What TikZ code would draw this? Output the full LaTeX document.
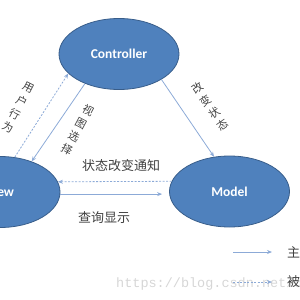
\documentclass[tikz,border=0pt]{standalone}
\usepackage{fontspec}
\newfontfamily\cjk{Noto Sans CJK SC}
\newfontfamily\lab{Carlito}
\newfontfamily\wm{Liberation Mono}
\usetikzlibrary{arrows.meta,shapes.geometric}
\definecolor{ellfill}{RGB}{79,129,189}
\definecolor{elldraw}{RGB}{56,93,138}
\definecolor{arr}{RGB}{140,170,215}
\definecolor{txt}{RGB}{64,64,64}
\tikzset{
  ell/.style={ellipse,fill=ellfill,draw=elldraw,line width=0.8pt,minimum width=120pt,minimum height=71pt,inner sep=0pt,text=white,font=\lab\bfseries\fontsize{13.5}{15}\selectfont},
  solidarr/.style={draw=arr,line width=0.8pt,-{Stealth[length=5pt,width=4pt]}},
  dasharr/.style={draw=arr,line width=0.8pt,dash pattern=on 2pt off 1.5pt,-{Stealth[length=5pt,width=4pt]}},
  lbl/.style={text=txt,font=\cjk\fontsize{13}{15}\selectfont,inner sep=0pt},
  vlbl/.style={text=txt,font=\cjk\fontsize{11}{15}\selectfont,inner sep=0pt,align=center}
}
\begin{document}
\begin{tikzpicture}[x=1pt,y=-1pt]
\useasboundingbox (0,0) rectangle (300,300);
\clip (0,0) rectangle (300,300);
\node[text=black!16,font=\wm\fontsize{13.5}{14}\selectfont,anchor=west,inner sep=0pt] (wmk) at (116,284) {https://blog.csdn.net/q};
\node[ell] (ctrl) at (119,54) {Controller};
\node[ell] (view) at (0,192) {View};
\node[ell] (model) at (229.5,191.5) {Model};
\draw[solidarr] (ctrl.-31) -- (model.114);
\draw[dasharr] (view.67) -- (ctrl.201);
\draw[solidarr] (ctrl.221) -- (view.44);
\draw[dasharr] (model.170) -- (view.10);
\draw[solidarr,shorten >=7pt] (view.-2) -- (model.west |- view.-2);
\node[vlbl,rotate=-27] (l1) at (18,108) {用\\户\\行\\为};
\node[vlbl,rotate=-28] (l2) at (77.5,130) {视\\图\\选\\择};
\node[vlbl,rotate=35] (l3) at (210,106.5) {改\\变\\状\\态};
\node[lbl] (l4) at (121,166) {状态改变通知};
\node[lbl] (l5) at (104,218) {查询显示};
\coordinate (s1) at (233,252);
\coordinate (e1) at (272,252);
\coordinate (s2) at (233,282);
\coordinate (e2) at (272,282);
\draw[solidarr] (s1) -- (e1);
\draw[dasharr] (s2) -- (e2);
\node[lbl,anchor=west] (k1) at (287,252) {主};
\node[lbl,anchor=west] (k2) at (287,282) {被};
\end{tikzpicture}
\end{document}
